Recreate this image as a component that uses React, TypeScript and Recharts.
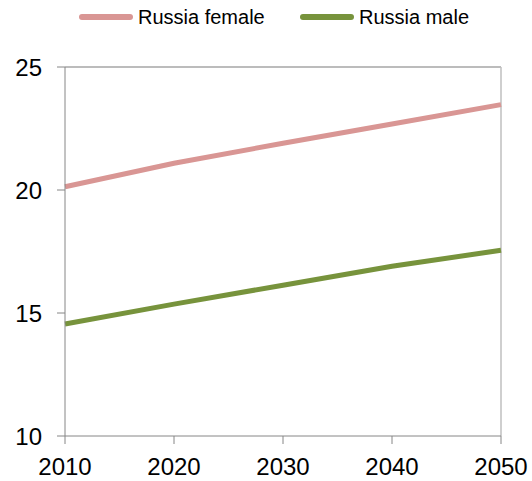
import React from 'react';
import { LineChart, Line, XAxis, YAxis, ReferenceLine } from 'recharts';

const years = [2010, 2020, 2030, 2040, 2050];
const russiaFemale = [20.13, 21.09, 21.9, 22.68, 23.47];
const russiaMale = [14.55, 15.36, 16.13, 16.9, 17.55];
const yTicks = [10, 15, 20, 25];

const FEMALE_COLOR = '#D99694';
const MALE_COLOR = '#77933C';
const FONT = 'Arial, "Liberation Sans", sans-serif';

const data = years.map((year, i) => ({
  year,
  female: russiaFemale[i],
  male: russiaMale[i],
}));

const legendItems = [
  { name: 'Russia female', color: FEMALE_COLOR, left: 79 },
  { name: 'Russia male', color: MALE_COLOR, left: 300 },
];

const App: React.FC = () => {
  return (
    <div style={{ position: 'absolute', left: 0, top: 0, width: 532, height: 481, background: '#fff', fontFamily: FONT }}>
      {legendItems.map((item) => (
        <div
          key={item.name}
          style={{ position: 'absolute', left: item.left, top: 4, height: 26, display: 'flex', alignItems: 'center' }}
        >
          <svg width={54} height={10} style={{ display: 'block' }}>
            <line x1={3} y1={5} x2={51} y2={5} stroke={item.color} strokeWidth={6} strokeLinecap="round" />
          </svg>
          <span style={{ fontSize: 20, color: '#000', marginLeft: 5, lineHeight: '26px' }}>{item.name}</span>
        </div>
      ))}
      <LineChart width={532} height={481} data={data} margin={{ top: 67, right: 31, left: 0, bottom: 0 }}>
        <XAxis
          dataKey="year"
          type="number"
          domain={[2010, 2050]}
          ticks={years}
          height={45}
          stroke="#868686"
          tickSize={8}
          tickMargin={14}
          tick={{ fill: '#000', fontSize: 24, fontFamily: FONT }}
          interval={0}
        />
        <YAxis
          domain={[10, 25]}
          ticks={yTicks}
          width={65}
          stroke="#868686"
          tickSize={8}
          tickMargin={15}
          tick={{ fill: '#000', fontSize: 24, fontFamily: FONT }}
          interval={0}
        />
        <ReferenceLine y={25} stroke="#A6A6A6" strokeWidth={1.5} />
        <ReferenceLine x={2050} stroke="#BFBFBF" strokeWidth={1.5} />
        <Line
          type="linear"
          dataKey="female"
          name="Russia female"
          stroke={FEMALE_COLOR}
          strokeWidth={5}
          dot={false}
          isAnimationActive={false}
        />
        <Line
          type="linear"
          dataKey="male"
          name="Russia male"
          stroke={MALE_COLOR}
          strokeWidth={5}
          dot={false}
          isAnimationActive={false}
        />
      </LineChart>
    </div>
  );
};

export default App;
